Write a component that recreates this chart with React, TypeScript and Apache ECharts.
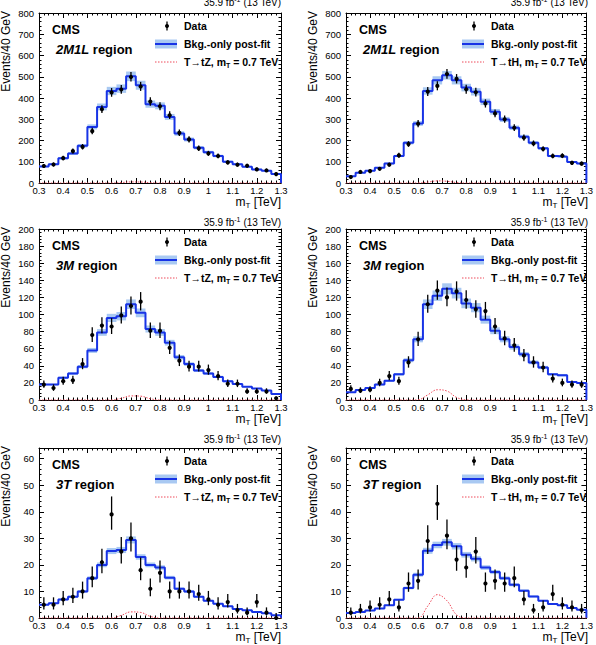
import React, { useEffect, useRef } from 'react';
import * as echarts from 'echarts';

// ---- bins (TeV) ----
const binEdges = [0.30, 0.34, 0.38, 0.42, 0.46, 0.50, 0.54, 0.58, 0.62, 0.66, 0.70, 0.74, 0.78, 0.82, 0.86, 0.90, 0.94, 0.98, 1.02, 1.06, 1.10, 1.14, 1.18, 1.22, 1.26, 1.30];
const binCenters = [0.32, 0.36, 0.40, 0.44, 0.48, 0.52, 0.56, 0.60, 0.64, 0.68, 0.72, 0.76, 0.80, 0.84, 0.88, 0.92, 0.96, 1.00, 1.04, 1.08, 1.12, 1.16, 1.20, 1.24, 1.28];

// ---- 2M1L, T->tZ ----
const bkg2M1LtZ = [78, 88, 117, 139, 175, 264, 358, 433, 444, 502, 460, 371, 363, 311, 233, 205, 166, 145, 127, 100, 88, 77, 64, 58, 42];
const data2M1LtZ = [80, 87, 117, 150, 170, 244, 347, 426, 440, 499, 454, 383, 361, 319, 236, 205, 163, 139, 127, 97, 86, 81, 64, 59, 42];
const sig2M1LtZ = [0, 0, 0, 0, 0, 0, 0, 0, 2, 5, 4.5, 1.5, 0, 0, 0, 0, 0, 0, 0, 0, 0, 0, 0, 0, 0];

// ---- 2M1L, T->tH ----
const bkg2M1LtH = [32, 48, 58, 72, 92, 127, 189, 280, 433, 483, 507, 483, 449, 429, 382, 335, 299, 260, 218, 189, 163, 127, 124, 99, 92];
const data2M1LtH = [28, 52, 56, 67, 86, 130, 183, 279, 430, 457, 513, 490, 441, 427, 374, 327, 300, 260, 213, 186, 160, 127, 128, 95, 91];
const sig2M1LtH = [0, 0, 0, 0, 0, 0, 0, 0.3, 4, 10, 8, 2, 0, 0, 0, 0, 0, 0, 0, 0, 0, 0, 0, 0, 0];

// ---- 3M, T->tZ ----
const bkg3MtZ = [18, 18, 26, 31, 39, 58, 79, 96, 98, 112, 102, 83, 79, 67, 50, 42, 34.5, 31, 27, 22, 18.6, 15.5, 13.5, 11, 7];
const data3MtZ = [18, 14, 22, 23, 42, 76, 87, 86, 99, 110, 115, 81, 81, 61, 46, 39, 39, 35, 28, 19, 19, 10, 10, 10, 2];
const sig3MtZ = [0, 0, 0, 0, 0, 0, 0, 0, 2, 4.8, 4.5, 1.5, 0, 0, 0, 0, 0, 0, 0, 0, 0, 0, 0, 0, 0];

// ---- 3M, T->tH ----
const bkg3MtH = [9, 11.6, 14, 18, 22.5, 30, 46.5, 71, 112, 122, 130, 125, 113, 108, 94, 81, 71, 62, 53.5, 44, 38, 30, 29, 21, 20];
const data3MtH = [13, 11, 12, 20, 28, 22, 44, 71, 112, 128, 120, 127, 117, 106, 104, 86, 72, 64, 52, 44, 38, 25, 20, 18, 18];
const sig3MtH = [0, 0, 0, 0, 0, 0, 0, 0.3, 6, 12, 10.5, 3, 0.2, 0, 0, 0, 0, 0, 0, 0, 0, 0, 0, 0, 0];

// ---- 3T, T->tZ ----
const bkg3TtZ = [5, 5.6, 7, 8, 10, 15, 20, 25.2, 25.6, 29.4, 23, 20, 19, 15.2, 11, 10, 8, 6.5, 5.4, 4.4, 3.4, 2.9, 2.3, 1.8, 1];
const data3TtZ = [5, 5, 7, 8, 10, 15, 21, 39, 25, 30, 18, 11, 17, 10, 10, 10, 9, 7, 5, 6, 3, 2, 6, 2, 0];
const sig3TtZ = [0, 0, 0, 0, 0, 0, 0, 0, 1, 2.3, 2.1, 0.6, 0, 0, 0, 0, 0, 0, 0, 0, 0, 0, 0, 0, 0];

// ---- 3T, T->tH ----
const bkg3TtH = [1.9, 2.3, 2.8, 3.6, 4.8, 6.9, 11.3, 16.3, 25.3, 27.5, 28.5, 27, 23.8, 22.3, 19, 17.3, 15, 12.5, 10.3, 8.1, 6.5, 5.3, 4.8, 3.8, 3.1];
const data3TtH = [2, 3, 4, 5, 7, 4, 13, 14, 29, 43, 31, 22, 19, 25, 13, 14, 13, 15, 7, 3, 4, 9, 5, 4, 3];
const sig3TtH = [0, 0, 0, 0, 0, 0, 0, 0, 4.5, 8.8, 6.5, 1.2, 0, 0, 0, 0, 0, 0, 0, 0, 0, 0, 0, 0, 0];

const regionNames = ['2M1L', '2M1L', '3M', '3M', '3T', '3T'];
const signalNames = ['T→tZ', 'T→tH', 'T→tZ', 'T→tH', 'T→tZ', 'T→tH'];
const yMaxes = [800, 800, 200, 200, 64, 64];
const yIntervals = [100, 100, 20, 20, 10, 10];
const bandRel = [0.045, 0.04, 0.05, 0.05, 0.045, 0.045];
const lumiText = '35.9 fb';
const energyText = ' (13 TeV)';

const panels = [
  { bkg: bkg2M1LtZ, data: data2M1LtZ, sig: sig2M1LtZ },
  { bkg: bkg2M1LtH, data: data2M1LtH, sig: sig2M1LtH },
  { bkg: bkg3MtZ, data: data3MtZ, sig: sig3MtZ },
  { bkg: bkg3MtH, data: data3MtH, sig: sig3MtH },
  { bkg: bkg3TtZ, data: data3TtZ, sig: sig3TtZ },
  { bkg: bkg3TtH, data: data3TtH, sig: sig3TtH },
];

// ---- layout ----
const FONT = "'Liberation Sans', Arial, Helvetica, sans-serif";
const colLeft = [39, 346];
const plotW = 242;
const rowTop = [13, 229, 448];
const plotH = [170, 171, 170];
const lumiY = [2, 222, 439];
const BLUE = '#1733e6';
const BAND = '#a9c9f2';
const RED = '#ee4a5a';

function poissonErr(n: number): [number, number] {
  if (n <= 0) return [0, 1.84];
  const s = Math.sqrt(n + 0.25);
  return [s - 0.5, s + 0.5];
}

function buildOption() {
  const grids: any[] = [];
  const xAxes: any[] = [];
  const yAxes: any[] = [];
  const series: any[] = [];
  const graphics: any[] = [];

  panels.forEach((p, i) => {
    const col = i % 2;
    const row = Math.floor(i / 2);
    const L = colLeft[col];
    const T = rowTop[row];
    const H = plotH[row];
    const R = L + plotW;
    const B = T + H;
    grids.push({ left: L, top: T, width: plotW, height: H, containLabel: false, show: false });

    const tickCommon = {
      axisTick: { show: true, inside: true, length: 5, lineStyle: { color: '#000', width: 1 } },
      minorTick: { show: true, splitNumber: 5, length: 2.5, lineStyle: { color: '#000', width: 1 } },
      splitLine: { show: false },
      minorSplitLine: { show: false },
      axisLine: { show: true, onZero: false, lineStyle: { color: '#000', width: 1 } },
    };
    const xBase = {
      gridIndex: i, type: 'value', min: 0.3, max: 1.3, interval: 0.1, ...tickCommon,
    };
    xAxes.push({
      ...xBase, position: 'bottom',
      axisLabel: {
        show: true, margin: 2, fontSize: 9.5, color: '#000', fontFamily: FONT,
        formatter: (v: number) => String(Math.round(v * 10) / 10),
      },
    });
    xAxes.push({ ...xBase, position: 'top', axisLabel: { show: false } });
    const yBase = {
      gridIndex: i, type: 'value', min: 0, max: yMaxes[i], interval: yIntervals[i], ...tickCommon,
    };
    yAxes.push({
      ...yBase, position: 'left',
      axisLabel: {
        show: true, margin: 5, fontSize: 9.5, color: '#000', fontFamily: FONT,
        showMaxLabel: yMaxes[i] % yIntervals[i] === 0,
      },
    });
    yAxes.push({ ...yBase, position: 'right', axisLabel: { show: false } });

    const xi = 2 * i;
    const yi = 2 * i;
    const rel = bandRel[i];

    // uncertainty band
    series.push({
      type: 'custom', xAxisIndex: xi, yAxisIndex: yi, silent: true, z: 2,
      data: p.bkg.map((b, k) => [binEdges[k], binEdges[k + 1], b * (1 - rel), b * (1 + rel)]),
      encode: { x: [0, 1], y: [2, 3] },
      renderItem: (_params: any, api: any) => {
        const p1 = api.coord([api.value(0), api.value(3)]);
        const p2 = api.coord([api.value(1), api.value(2)]);
        return {
          type: 'rect',
          shape: { x: p1[0], y: p1[1], width: p2[0] - p1[0], height: p2[1] - p1[1] },
          style: { fill: BAND },
        };
      },
    });
    // background histogram
    const stepData = p.bkg.map((b, k) => [binEdges[k], b]);
    stepData.push([binEdges[25], p.bkg[24]]);
    stepData.push([binEdges[25], 0]);
    series.push({
      type: 'line', xAxisIndex: xi, yAxisIndex: yi, step: 'end', symbol: 'none', silent: true, z: 3,
      data: stepData,
      lineStyle: { color: BLUE, width: 2 },
    });
    // signal
    const sigData = [[binEdges[0], p.sig[0]], ...p.sig.map((s, k) => [binCenters[k], s]), [binEdges[25], p.sig[24]]];
    series.push({
      type: 'line', xAxisIndex: xi, yAxisIndex: yi, smooth: 0.4, symbol: 'none', silent: true, z: 4,
      data: sigData, clip: true,
      lineStyle: { color: RED, width: 1, type: [1.5, 1.5] },
    });
    // data points
    series.push({
      type: 'custom', xAxisIndex: xi, yAxisIndex: yi, silent: true, z: 5,
      data: p.data.map((d, k) => {
        const [dn, up] = poissonErr(d);
        return [binCenters[k], d, d - dn, d + up];
      }),
      encode: { x: 0, y: [1, 2, 3] },
      renderItem: (_params: any, api: any) => {
        const c = api.coord([api.value(0), api.value(1)]);
        const lo = api.coord([api.value(0), api.value(2)]);
        const hi = api.coord([api.value(0), api.value(3)]);
        return {
          type: 'group',
          children: [
            { type: 'line', shape: { x1: c[0], y1: lo[1], x2: c[0], y2: hi[1] }, style: { stroke: '#000', lineWidth: 1.3 } },
            { type: 'circle', shape: { cx: c[0], cy: c[1], r: 2.1 }, style: { fill: '#000' } },
          ],
        };
      },
    });

    // ---- texts ----
    graphics.push({
      type: 'text', x: R, y: lumiY[row],
      style: {
        text: `{n|${lumiText}}{p|-1}{n|${energyText}}`, align: 'right', verticalAlign: 'middle',
        rich: {
          n: { fontSize: 10, fontFamily: FONT, fill: '#000', lineHeight: 12 },
          p: { fontSize: 7, fontFamily: FONT, fill: '#000', lineHeight: 7, verticalAlign: 'top' },
        },
      },
    });
    graphics.push({
      type: 'text', x: L + 13, y: T + 17,
      style: { text: 'CMS', fontSize: 12.5, fontWeight: 'bold', fontFamily: FONT, fill: '#000', verticalAlign: 'middle' },
    });
    graphics.push({
      type: 'text', x: L + 17, y: T + 36,
      style: {
        text: `{i|${regionNames[i]}}{b| region}`, verticalAlign: 'middle',
        rich: {
          i: { fontSize: 13, fontWeight: 'bold', fontStyle: 'italic', fontFamily: FONT, fill: '#000' },
          b: { fontSize: 13, fontWeight: 'bold', fontFamily: FONT, fill: '#000' },
        },
      },
    });
    // legend
    const lx = L + 116;
    const ly1 = T + 13, ly2 = T + 31, ly3 = T + 49;
    graphics.push({ type: 'line', shape: { x1: lx + 12, y1: ly1 - 4.5, x2: lx + 12, y2: ly1 + 4.5 }, style: { stroke: '#000', lineWidth: 1.3 } });
    graphics.push({ type: 'circle', shape: { cx: lx + 12, cy: ly1, r: 2 }, style: { fill: '#000' } });
    graphics.push({ type: 'rect', shape: { x: lx, y: ly2 - 4.5, width: 22, height: 9 }, style: { fill: BAND } });
    graphics.push({ type: 'line', shape: { x1: lx, y1: ly2, x2: lx + 22, y2: ly2 }, style: { stroke: BLUE, lineWidth: 2 } });
    graphics.push({ type: 'line', shape: { x1: lx, y1: ly3, x2: lx + 22, y2: ly3 }, style: { stroke: RED, lineWidth: 1, lineDash: [1.5, 1.5] } });
    const legStyle = { fontSize: 10.5, fontWeight: 'bold', fontFamily: FONT, fill: '#000' };
    graphics.push({ type: 'text', x: L + 145, y: ly1, style: { text: 'Data', ...legStyle, verticalAlign: 'middle' } });
    graphics.push({ type: 'text', x: L + 145, y: ly2, style: { text: 'Bkg.-only post-fit', ...legStyle, verticalAlign: 'middle' } });
    graphics.push({
      type: 'text', x: L + 145, y: ly3,
      style: {
        text: `{b|${signalNames[i]}, m}{s|T}{b| = 0.7 TeV}`, verticalAlign: 'middle',
        rich: {
          b: { ...legStyle, lineHeight: 13 },
          s: { ...legStyle, fontSize: 7, lineHeight: 7, verticalAlign: 'bottom' },
        },
      },
    });
    // axis titles
    graphics.push({
      type: 'text', x: R, y: B + 19,
      style: {
        text: '{m|m}{s|T}{m| [TeV]}', align: 'right', verticalAlign: 'middle',
        rich: {
          m: { fontSize: 12, fontFamily: FONT, fill: '#000', lineHeight: 15 },
          s: { fontSize: 8, fontFamily: FONT, fill: '#000', lineHeight: 8, verticalAlign: 'bottom' },
        },
      },
    });
    graphics.push({
      type: 'text', x: col === 0 ? 6 : 313, y: T - 2, rotation: Math.PI / 2,
      style: { text: 'Events/40 GeV', fontSize: 12, fontFamily: FONT, fill: '#000', align: 'right', verticalAlign: 'middle' },
    });
  });

  return {
    animation: false,
    backgroundColor: '#fff',
    textStyle: { fontFamily: FONT },
    grid: grids,
    xAxis: xAxes,
    yAxis: yAxes,
    series,
    graphic: { elements: graphics },
  };
}

export default function App() {
  const ref = useRef<HTMLDivElement>(null);
  useEffect(() => {
    if (!ref.current) return;
    const chart = echarts.init(ref.current, null, { renderer: 'svg', width: 596, height: 645 });
    chart.setOption(buildOption() as any);
    return () => chart.dispose();
  }, []);
  return (
    <div
      ref={ref}
      style={{ position: 'absolute', left: 0, top: 0, width: 596, height: 645, background: '#fff' }}
    />
  );
}
